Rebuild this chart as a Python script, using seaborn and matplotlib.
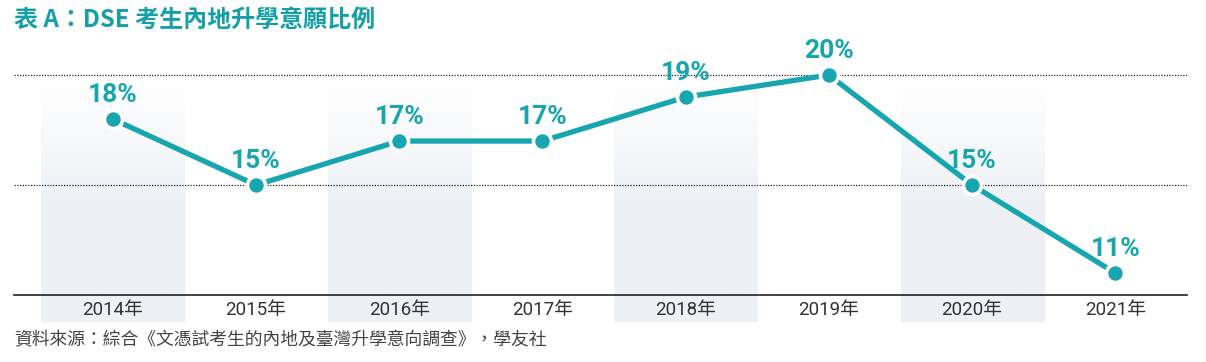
import matplotlib
matplotlib.use("Agg")
import matplotlib.pyplot as plt
import seaborn as sns
import numpy as np
import pandas as pd

# data
years = ["2014年", "2015年", "2016年", "2017年", "2018年", "2019年", "2020年", "2021年"]
share = [18, 15, 17, 17, 19, 20, 15, 11]
shaded = [0, 2, 4, 6]  # categories with a light background band

title = "表 A：DSE 考生內地升學意願比例"
source = "資料來源：綜合《文憑試考生的內地及臺灣升學意向調查》，學友社"

TEAL = "#17a6af"
BAND = "#edf1f5"

sns.set_theme(style="white")
plt.rcParams["font.family"] = ["Roboto", "Noto Sans CJK TC", "DejaVu Sans"]

df = pd.DataFrame({"year": years, "share": share})
df["x"] = np.arange(len(df))

fig = plt.figure(figsize=(12.06, 3.62), dpi=100)
ax = fig.add_axes([0.0116, 0.185, 0.9726, 0.649])

# background bands with a soft fade at the top
grad = np.linspace(0, 1, 100).reshape(-1, 1)
cmap = matplotlib.colors.LinearSegmentedColormap.from_list("band", ["white", BAND, BAND])
for i in shaded:
    ax.imshow(grad, cmap=cmap, aspect="auto", origin="upper",
              extent=(i - 0.5, i + 0.5, 8.77, 19.55), zorder=0, clip_on=False)

for y in (15, 20):
    ax.axhline(y, color="#222222", linestyle=(0, (1, 1.2)), linewidth=0.9, zorder=1)

sns.lineplot(data=df, x="x", y="share", ax=ax, color=TEAL, linewidth=3.8,
             marker="o", markersize=13, markerfacecolor=TEAL,
             markeredgecolor="white", markeredgewidth=2.6, zorder=3)

for xi, v in zip(df["x"], df["share"]):
    ax.annotate(f"{v}%", (xi, v), xytext=(0, 17.5), textcoords="offset points",
                ha="center", va="center", color=TEAL, fontsize=19,
                fontweight="bold", family=["Roboto", "Noto Sans CJK TC"], zorder=4)

ax.set_xlim(-0.69, 7.5)
ax.set_ylim(10, 20.68)
ax.set_xticks(df["x"])
ax.set_xticklabels(years, fontsize=13.5, color="#333333")
ax.set_yticks([])
ax.tick_params(axis="x", length=0, pad=4)
ax.set_xlabel("")
ax.set_ylabel("")
for s in ("top", "left", "right"):
    ax.spines[s].set_visible(False)
ax.spines["bottom"].set_color("#222222")
ax.spines["bottom"].set_linewidth(1.2)
ax.set_facecolor("none")

fig.text(0.0116, 0.945, title, ha="left", va="center", fontsize=17.3,
         fontweight="bold", color="#15a0a9",
         family=["Noto Sans CJK TC", "DejaVu Sans"])
fig.text(0.0116, 0.061, source, ha="left", va="center", fontsize=12.8,
         color="#444444", family=["Noto Sans CJK TC", "DejaVu Sans"])

fig.savefig("out.png", dpi=100)
